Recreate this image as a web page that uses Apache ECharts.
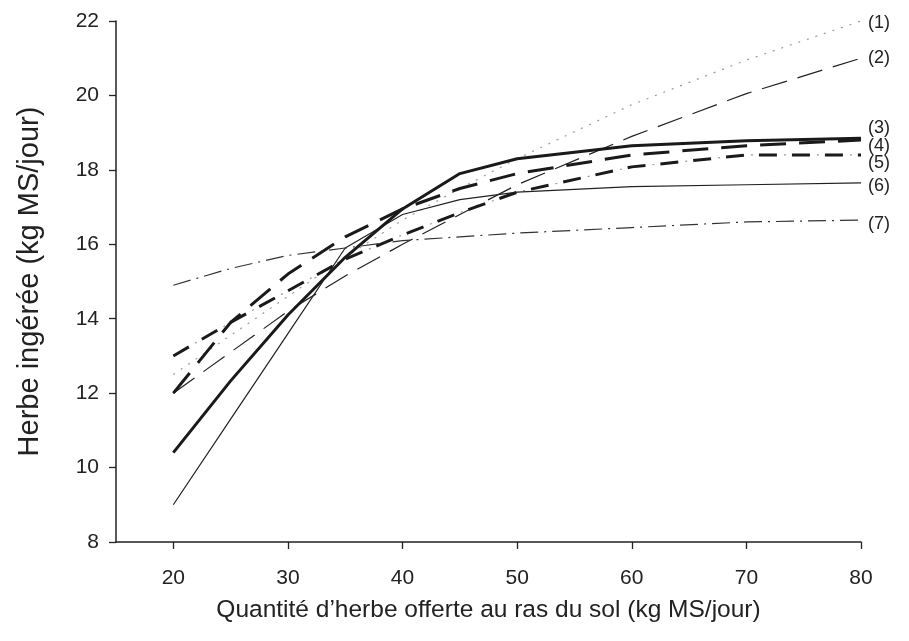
<!DOCTYPE html>
<html>
<head>
<meta charset="utf-8">
<script src="https://cdn.jsdelivr.net/npm/echarts@6/dist/echarts.min.js"></script>
<style>
html,body{margin:0;padding:0;background:#fff;}
#chart{width:909px;height:641px;}
</style>
</head>
<body>
<div id="chart"></div>
<script>
// ---- data ----
const xValues = [20, 25, 30, 35, 40, 45, 50, 60, 70, 80];
const s1 = [12.5, 13.55, 14.6, 15.65, 16.65, 17.5, 18.3, 19.75, 20.95, 22.0];
const s2 = [12.0, 13.1, 14.2, 15.15, 16.0, 16.8, 17.6, 18.9, 20.05, 21.0];
const s3 = [10.4, 12.33, 14.1, 15.65, 16.95, 17.9, 18.3, 18.65, 18.78, 18.85];
const s4 = [12.0, 13.9, 15.2, 16.2, 16.95, 17.5, 17.9, 18.4, 18.65, 18.8];
const s5 = [13.0, 13.9, 14.75, 15.6, 16.25, 16.85, 17.4, 18.08, 18.4, 18.4];
const s6 = [9.0, 11.3, 13.6, 15.9, 16.8, 17.2, 17.4, 17.55, 17.6, 17.65];
const s7 = [14.9, 15.35, 15.7, 15.9, 16.1, 16.2, 16.3, 16.45, 16.6, 16.65];
const seriesLabels = ['(1)', '(2)', '(3)', '(4)', '(5)', '(6)', '(7)'];
const xTicks = [20, 30, 40, 50, 60, 70, 80];
const xTitle = 'Quantité d\u2019herbe offerte au ras du sol (kg MS/jour)';
const yTitle = 'Herbe ingérée (kg MS/jour)';

function pairs(ys) { return xValues.map((x, i) => [x, ys[i]]); }

const FONT = '"Liberation Sans", Arial, sans-serif';
const TXT = '#222';

function mk(name, ys, style, labelText, labelOffset) {
  const o = {
    name: name,
    type: 'line',
    data: pairs(ys),
    symbol: 'none',
    silent: true,
    animation: false,
    lineStyle: style,
    z: style.z || 2
  };
  if (labelText !== null) {
    o.endLabel = {
      show: true,
      formatter: labelText,
      distance: 7,
      offset: labelOffset || [0, 0],
      color: TXT,
      fontFamily: FONT,
      fontSize: 18
    };
  }
  return o;
}

const chart = echarts.init(document.getElementById('chart'), null, {renderer: 'canvas'});
chart.setOption({
  backgroundColor: '#fff',
  animation: false,
  grid: {left: 116, right: 48, top: 21, bottom: 99, containLabel: false},
  xAxis: {
    type: 'value',
    min: 15, max: 80,
    name: xTitle,
    nameLocation: 'middle',
    nameGap: 56,
    nameTextStyle: {color: TXT, fontFamily: FONT, fontSize: 24.5},
    axisLine: {show: true, onZero: false, lineStyle: {color: '#222', width: 1.5}},
    axisTick: {show: true, inside: false, length: 7, customValues: xTicks, lineStyle: {color: '#222', width: 1.3}},
    axisLabel: {customValues: xTicks, margin: 26, color: TXT, fontFamily: FONT, fontSize: 21},
    splitLine: {show: false}
  },
  yAxis: {
    type: 'value',
    min: 8, max: 22, interval: 2,
    name: yTitle,
    nameLocation: 'middle',
    nameGap: 72,
    nameTextStyle: {color: TXT, fontFamily: FONT, fontSize: 29},
    axisLine: {show: true, onZero: false, lineStyle: {color: '#222', width: 1.5}},
    axisTick: {show: true, inside: false, length: 7, lineStyle: {color: '#222', width: 1.3}},
    axisLabel: {margin: 17, color: TXT, fontFamily: FONT, fontSize: 21},
    splitLine: {show: false}
  },
  series: [
    mk('s1', s1, {color: '#9a9a9a', width: 1.2, type: [2, 7]}, seriesLabels[0], [0, 2]),
    mk('s2', s2, {color: '#222', width: 1.2, type: [26, 11]}, seriesLabels[1], [0, 0]),
    mk('s3', s3, {color: '#1a1a1a', width: 3, type: 'solid', z: 3}, seriesLabels[2], [0, -10]),
    mk('s4', s4, {color: '#1a1a1a', width: 3, type: [26, 13]}, seriesLabels[3], [0, 6]),
    mk('s5', s5, {color: '#1a1a1a', width: 3, type: [18, 15]}, seriesLabels[4], [0, 8]),
    mk('s5dots', s5, {color: '#9a9a9a', width: 1.2, type: [2, 31], dashOffset: 8}, null),
    mk('s6', s6, {color: '#222', width: 1.2, type: 'solid'}, seriesLabels[5], [0, 3]),
    mk('s7', s7, {color: '#333', width: 1.2, type: [18, 6, 2, 6]}, seriesLabels[6], [0, 4])
  ]
});
</script>
</body>
</html>
